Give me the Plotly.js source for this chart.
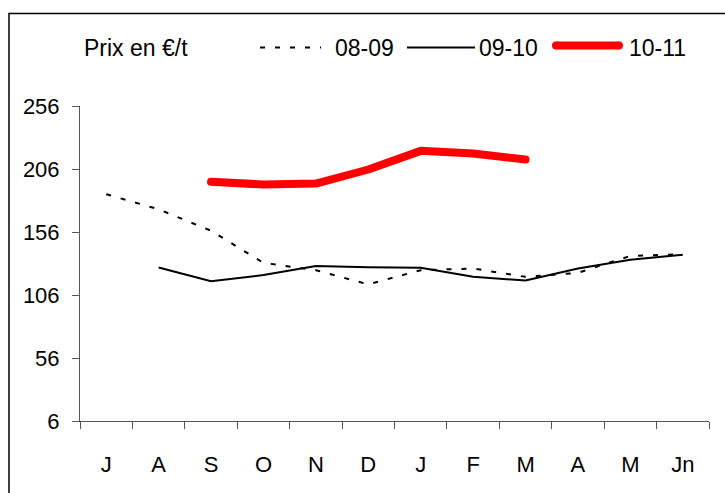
<!DOCTYPE html>
<html>
<head>
<meta charset="utf-8">
<script src="https://cdn.plot.ly/plotly-3.0.1.min.js"></script>
<style>
html,body{margin:0;padding:0;background:#fff;}
#chart{width:725px;height:493px;}
.scatterlayer .trace:nth-child(3) .js-line{stroke-linecap:round !important;stroke-linejoin:round !important;}
</style>
</head>
<body>
<div id="chart"></div>
<script>
var months = ["J", "A", "S", "O", "N", "D", "J", "F", "M", "A", "M", "Jn"];
var yTicks = [6, 56, 106, 156, 206, 256];
var s0809 = [186, 174, 157, 131.5, 125.7, 114.4, 125.7, 127, 120.4, 123.6, 137, 138.4];
var s0910 = [null, 127.9, 117, 121.8, 129, 128, 127.6, 120.4, 117.5, 127, 134, 138];
var s1011 = [null, null, 195.8, 193.7, 194.4, 205.6, 220.4, 218.3, 213.5, null, null, null];

var idx = months.map(function(_, i){ return i; });
var bounds = [];
for (var i = 0; i <= months.length; i++) bounds.push(i - 0.5);

var font = "Liberation Sans, Arial, sans-serif";

var traces = [
  {x: idx, y: s0809, type: "scatter", mode: "lines", name: "08-09",
   line: {color: "#000", width: 2, dash: "5px,10px"}, hoverinfo: "y"},
  {x: idx, y: s0910, type: "scatter", mode: "lines", name: "09-10",
   line: {color: "#000", width: 2}, hoverinfo: "y"},
  {x: idx, y: s1011, type: "scatter", mode: "lines", name: "10-11",
   line: {color: "#ff0000", width: 8}, hoverinfo: "y"},
  {x: [0], y: [null], xaxis: "x2", type: "scatter", mode: "lines", showlegend: false, hoverinfo: "skip"}
];

function px(xp){ return (xp - 80) / 629; }
function py(yp){ return (421 - yp) / 315; }

var layout = {
  width: 725, height: 493,
  margin: {l: 80, r: 16, t: 106, b: 72},
  paper_bgcolor: "#fff", plot_bgcolor: "#fff",
  showlegend: false,
  font: {family: font, color: "#000", size: 22},
  xaxis: {
    range: [-0.5, months.length - 0.5],
    tickmode: "array", tickvals: idx, ticktext: months,
    ticks: "outside", ticklen: 24, tickcolor: "rgba(0,0,0,0)",
    showgrid: false, zeroline: false, showline: true, linecolor: "#555", linewidth: 1,
    tickfont: {family: font, size: 22, color: "#000"},
    fixedrange: true
  },
  xaxis2: {
    overlaying: "x", range: [-0.5, months.length - 0.5],
    tickmode: "array", tickvals: bounds, showticklabels: false,
    ticks: "outside", ticklen: 7, tickcolor: "#555", tickwidth: 1,
    showgrid: false, zeroline: false, showline: false, side: "bottom", anchor: "y"
  },
  yaxis: {
    range: [6, 256],
    tickmode: "array", tickvals: yTicks, ticktext: yTicks.map(String),
    ticks: "outside", ticklen: 7, tickcolor: "#555", tickwidth: 1,
    ticklabelstandoff: 8,
    showgrid: false, zeroline: false, showline: true, linecolor: "#555", linewidth: 1,
    tickfont: {family: font, size: 22, color: "#000"},
    fixedrange: true
  },
  shapes: [
    {type: "rect", xref: "paper", yref: "paper", x0: px(9), x1: px(760), y0: py(13.5), y1: py(530),
     line: {color: "#000", width: 1.5}, fillcolor: "rgba(0,0,0,0)"},
    {type: "line", xref: "paper", yref: "paper", x0: px(260), x1: px(321), y0: py(47.5), y1: py(47.5),
     line: {color: "#000", width: 2, dash: "5px,10px"}},
    {type: "line", xref: "paper", yref: "paper", x0: px(407), x1: px(475), y0: py(47.5), y1: py(47.5),
     line: {color: "#000", width: 2}},
    {type: "line", xref: "paper", yref: "paper", x0: px(556), x1: px(619), y0: py(45.5), y1: py(45.5),
     line: {color: "#ff0000", width: 8}},
    {type: "circle", xref: "paper", yref: "paper", x0: px(552), x1: px(560), y0: py(41.5), y1: py(49.5),
     line: {width: 0}, fillcolor: "#ff0000"},
    {type: "circle", xref: "paper", yref: "paper", x0: px(615), x1: px(623), y0: py(41.5), y1: py(49.5),
     line: {width: 0}, fillcolor: "#ff0000"}
  ],
  annotations: [
    {text: "Prix en €/t", xref: "paper", yref: "paper", x: px(82), y: py(48), xanchor: "left", yanchor: "middle", showarrow: false, font: {size: 23}},
    {text: "08-09", xref: "paper", yref: "paper", x: px(333), y: py(48), xanchor: "left", yanchor: "middle", showarrow: false, font: {size: 23}},
    {text: "09-10", xref: "paper", yref: "paper", x: px(477), y: py(48), xanchor: "left", yanchor: "middle", showarrow: false, font: {size: 23}},
    {text: "10-11", xref: "paper", yref: "paper", x: px(627), y: py(48), xanchor: "left", yanchor: "middle", showarrow: false, font: {size: 23}}
  ]
};

Plotly.newPlot("chart", traces, layout, {displayModeBar: false, staticPlot: true});
</script>
</body>
</html>
